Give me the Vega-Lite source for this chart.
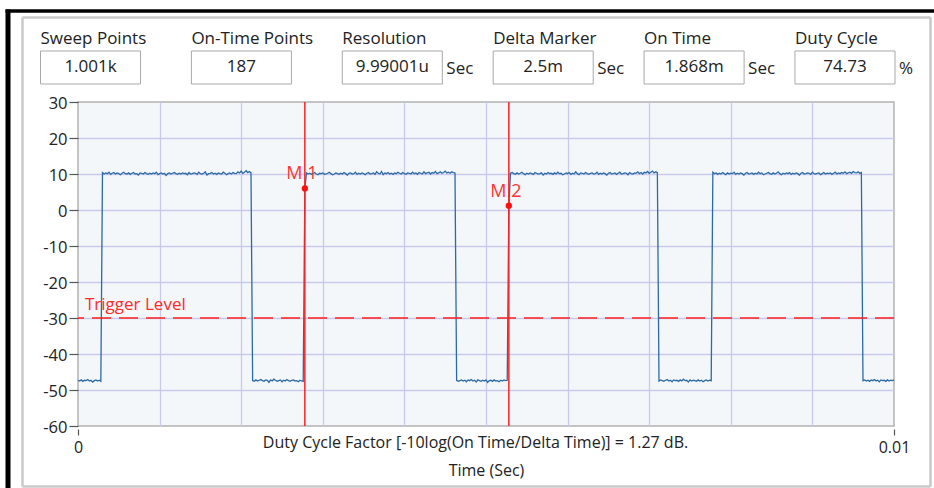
{
"$schema": "https://vega.github.io/schema/vega-lite/v6.json",
"width": 816,
"height": 324,
"autosize": {"type": "none"},
"padding": {"left": 78, "top": 102, "right": 40, "bottom": 62},
"background": "#ffffff",
"config": {
  "font": "Open Sans",
  "view": {"fill": "#f4f7f9", "stroke": "#b3b3b3", "strokeWidth": 1.5}
},
"datasets": {
  "header": [
    {"name": "Sweep Points", "val": "1.001k", "unit": ""},
    {"name": "On-Time Points", "val": "187", "unit": ""},
    {"name": "Resolution", "val": "9.99001u", "unit": "Sec"},
    {"name": "Delta Marker", "val": "2.5m", "unit": "Sec"},
    {"name": "On Time", "val": "1.868m", "unit": "Sec"},
    {"name": "Duty Cycle", "val": "74.73", "unit": "%"}
  ],
  "markers": [
    {"name": "M 1", "t": 0.00278, "v": 6.0},
    {"name": "M 2", "t": 0.00528, "v": 1.2}
  ],
  "trigger": [
    {"level": -30, "label": "Trigger Level"}
  ],
  "signal": [
{"t":0.00000,"v":-47.3},{"t":0.00002,"v":-47.5},{"t":0.00004,"v":-47.2},{"t":0.00006,"v":-47.6},{"t":0.00008,"v":-47.3},
{"t":0.00010,"v":-47.4},{"t":0.00012,"v":-47.1},{"t":0.00014,"v":-47.5},{"t":0.00016,"v":-47.3},{"t":0.00018,"v":-47.8},
{"t":0.00020,"v":-47.4},{"t":0.00022,"v":-47.2},{"t":0.00024,"v":-47.5},{"t":0.00026,"v":-47.3},{"t":0.00028,"v":-47.6},
{"t":0.00030,"v":10.4},{"t":0.00032,"v":10.0},{"t":0.00034,"v":10.3},{"t":0.00036,"v":10.1},{"t":0.00038,"v":10.5},
{"t":0.00040,"v":9.9},{"t":0.00042,"v":10.2},{"t":0.00044,"v":10.4},{"t":0.00046,"v":10.0},{"t":0.00048,"v":10.3},
{"t":0.00050,"v":10.1},{"t":0.00052,"v":9.8},{"t":0.00054,"v":10.2},{"t":0.00056,"v":10.5},{"t":0.00058,"v":10.1},
{"t":0.00060,"v":10.0},{"t":0.00062,"v":10.3},{"t":0.00064,"v":9.9},{"t":0.00066,"v":10.2},{"t":0.00068,"v":10.4},
{"t":0.00070,"v":10.0},{"t":0.00072,"v":10.1},{"t":0.00074,"v":9.7},{"t":0.00076,"v":10.3},{"t":0.00078,"v":10.2},
{"t":0.00080,"v":10.0},{"t":0.00082,"v":10.4},{"t":0.00084,"v":10.1},{"t":0.00086,"v":9.9},{"t":0.00088,"v":10.2},
{"t":0.00090,"v":10.0},{"t":0.00092,"v":10.3},{"t":0.00094,"v":10.1},{"t":0.00096,"v":10.5},{"t":0.00098,"v":9.8},
{"t":0.00100,"v":10.1},{"t":0.00102,"v":10.3},{"t":0.00104,"v":10.0},{"t":0.00106,"v":10.2},{"t":0.00108,"v":9.6},
{"t":0.00110,"v":10.1},{"t":0.00112,"v":10.3},{"t":0.00114,"v":10.0},{"t":0.00116,"v":10.2},{"t":0.00118,"v":10.4},
{"t":0.00120,"v":10.1},{"t":0.00122,"v":9.9},{"t":0.00124,"v":10.2},{"t":0.00126,"v":10.0},{"t":0.00128,"v":10.3},
{"t":0.00130,"v":10.1},{"t":0.00132,"v":10.2},{"t":0.00134,"v":9.8},{"t":0.00136,"v":10.4},{"t":0.00138,"v":10.0},
{"t":0.00140,"v":10.1},{"t":0.00142,"v":10.3},{"t":0.00144,"v":10.2},{"t":0.00146,"v":9.9},{"t":0.00148,"v":10.5},
{"t":0.00150,"v":10.1},{"t":0.00152,"v":10.0},{"t":0.00154,"v":10.2},{"t":0.00156,"v":10.6},{"t":0.00158,"v":9.7},
{"t":0.00160,"v":10.1},{"t":0.00162,"v":10.2},{"t":0.00164,"v":10.4},{"t":0.00166,"v":10.0},{"t":0.00168,"v":10.2},
{"t":0.00170,"v":9.9},{"t":0.00172,"v":10.3},{"t":0.00174,"v":10.1},{"t":0.00176,"v":10.0},{"t":0.00178,"v":10.5},
{"t":0.00180,"v":10.2},{"t":0.00182,"v":9.8},{"t":0.00184,"v":10.1},{"t":0.00186,"v":10.3},{"t":0.00188,"v":10.0},
{"t":0.00190,"v":10.4},{"t":0.00192,"v":10.2},{"t":0.00194,"v":10.1},{"t":0.00196,"v":10.6},{"t":0.00198,"v":10.3},
{"t":0.00200,"v":10.8},{"t":0.00202,"v":10.2},{"t":0.00204,"v":10.5},{"t":0.00206,"v":10.9},{"t":0.00208,"v":10.4},
{"t":0.00210,"v":10.7},{"t":0.00212,"v":10.3},
{"t":0.00214,"v":-47.4},{"t":0.00216,"v":-47.6},{"t":0.00218,"v":-47.2},{"t":0.00220,"v":-47.5},{"t":0.00222,"v":-47.3},
{"t":0.00224,"v":-47.1},{"t":0.00226,"v":-47.4},{"t":0.00228,"v":-47.6},{"t":0.00230,"v":-47.2},{"t":0.00232,"v":-47.3},
{"t":0.00234,"v":-47.9},{"t":0.00236,"v":-47.2},{"t":0.00238,"v":-47.5},{"t":0.00240,"v":-47.0},{"t":0.00242,"v":-47.3},
{"t":0.00244,"v":-47.6},{"t":0.00246,"v":-47.4},{"t":0.00248,"v":-47.2},{"t":0.00250,"v":-47.7},{"t":0.00252,"v":-47.3},
{"t":0.00254,"v":-47.5},{"t":0.00256,"v":-47.1},{"t":0.00258,"v":-47.4},{"t":0.00260,"v":-47.6},{"t":0.00262,"v":-47.3},
{"t":0.00264,"v":-47.2},{"t":0.00266,"v":-47.5},{"t":0.00268,"v":-47.4},{"t":0.00270,"v":-47.7},{"t":0.00272,"v":-47.3},
{"t":0.00274,"v":-47.5},{"t":0.00276,"v":-47.6},
{"t":0.00278,"v":6.0},
{"t":0.00280,"v":10.3},{"t":0.00282,"v":10.0},{"t":0.00284,"v":10.2},{"t":0.00286,"v":9.9},{"t":0.00288,"v":10.1},
{"t":0.00290,"v":10.4},{"t":0.00292,"v":10.0},{"t":0.00294,"v":9.8},{"t":0.00296,"v":10.2},{"t":0.00298,"v":10.1},
{"t":0.00300,"v":10.3},{"t":0.00302,"v":9.9},{"t":0.00304,"v":10.0},{"t":0.00306,"v":10.2},{"t":0.00308,"v":10.5},
{"t":0.00310,"v":10.1},{"t":0.00312,"v":9.8},{"t":0.00314,"v":10.0},{"t":0.00316,"v":10.3},{"t":0.00318,"v":10.1},
{"t":0.00320,"v":9.9},{"t":0.00322,"v":10.2},{"t":0.00324,"v":10.0},{"t":0.00326,"v":10.4},{"t":0.00328,"v":10.1},
{"t":0.00330,"v":9.7},{"t":0.00332,"v":10.2},{"t":0.00334,"v":10.3},{"t":0.00336,"v":10.0},{"t":0.00338,"v":10.1},
{"t":0.00340,"v":10.5},{"t":0.00342,"v":9.9},{"t":0.00344,"v":10.2},{"t":0.00346,"v":10.0},{"t":0.00348,"v":10.3},
{"t":0.00350,"v":10.1},{"t":0.00352,"v":9.8},{"t":0.00354,"v":10.2},{"t":0.00356,"v":10.4},{"t":0.00358,"v":10.0},
{"t":0.00360,"v":10.1},{"t":0.00362,"v":10.3},{"t":0.00364,"v":9.9},{"t":0.00366,"v":10.6},{"t":0.00368,"v":10.2},
{"t":0.00370,"v":10.0},{"t":0.00372,"v":10.7},{"t":0.00374,"v":9.8},{"t":0.00376,"v":10.3},{"t":0.00378,"v":10.1},
{"t":0.00380,"v":10.4},{"t":0.00382,"v":10.0},{"t":0.00384,"v":10.2},{"t":0.00386,"v":9.9},{"t":0.00388,"v":10.3},
{"t":0.00390,"v":10.1},{"t":0.00392,"v":10.5},{"t":0.00394,"v":10.2},{"t":0.00396,"v":10.0},{"t":0.00398,"v":10.4},
{"t":0.00400,"v":10.1},{"t":0.00402,"v":9.9},{"t":0.00404,"v":10.3},{"t":0.00406,"v":10.2},{"t":0.00408,"v":10.0},
{"t":0.00410,"v":10.5},{"t":0.00412,"v":10.1},{"t":0.00414,"v":10.3},{"t":0.00416,"v":9.9},{"t":0.00418,"v":10.4},
{"t":0.00420,"v":10.2},{"t":0.00422,"v":10.0},{"t":0.00424,"v":10.6},{"t":0.00426,"v":10.1},{"t":0.00428,"v":10.3},
{"t":0.00430,"v":10.5},{"t":0.00432,"v":10.0},{"t":0.00434,"v":10.4},{"t":0.00436,"v":10.2},{"t":0.00438,"v":10.7},
{"t":0.00440,"v":10.1},{"t":0.00442,"v":10.3},{"t":0.00444,"v":10.6},{"t":0.00446,"v":10.2},{"t":0.00448,"v":10.4},
{"t":0.00450,"v":10.8},{"t":0.00452,"v":10.3},{"t":0.00454,"v":10.5},{"t":0.00456,"v":10.2},{"t":0.00458,"v":10.6},
{"t":0.00460,"v":10.4},{"t":0.00462,"v":10.3},
{"t":0.00464,"v":-47.3},{"t":0.00466,"v":-47.6},{"t":0.00468,"v":-47.4},{"t":0.00470,"v":-47.2},{"t":0.00472,"v":-47.5},
{"t":0.00474,"v":-47.3},{"t":0.00476,"v":-47.7},{"t":0.00478,"v":-47.2},{"t":0.00480,"v":-47.4},{"t":0.00482,"v":-47.1},
{"t":0.00484,"v":-47.5},{"t":0.00486,"v":-47.3},{"t":0.00488,"v":-47.8},{"t":0.00490,"v":-47.2},{"t":0.00492,"v":-47.4},
{"t":0.00494,"v":-47.6},{"t":0.00496,"v":-47.3},{"t":0.00498,"v":-47.5},{"t":0.00500,"v":-47.2},{"t":0.00502,"v":-47.9},
{"t":0.00504,"v":-47.4},{"t":0.00506,"v":-47.3},{"t":0.00508,"v":-47.6},{"t":0.00510,"v":-47.2},{"t":0.00512,"v":-47.5},
{"t":0.00514,"v":-47.4},{"t":0.00516,"v":-47.7},{"t":0.00518,"v":-47.3},{"t":0.00520,"v":-47.5},{"t":0.00522,"v":-47.2},
{"t":0.00524,"v":-47.4},{"t":0.00526,"v":-47.3},
{"t":0.00528,"v":1.2},
{"t":0.00530,"v":10.2},{"t":0.00532,"v":10.4},{"t":0.00534,"v":10.1},{"t":0.00536,"v":9.9},{"t":0.00538,"v":10.3},
{"t":0.00540,"v":10.0},{"t":0.00542,"v":10.2},{"t":0.00544,"v":10.5},{"t":0.00546,"v":10.1},{"t":0.00548,"v":9.8},
{"t":0.00550,"v":10.2},{"t":0.00552,"v":10.0},{"t":0.00554,"v":10.3},{"t":0.00556,"v":10.1},{"t":0.00558,"v":9.9},
{"t":0.00560,"v":10.4},{"t":0.00562,"v":10.2},{"t":0.00564,"v":10.0},{"t":0.00566,"v":10.1},{"t":0.00568,"v":10.3},
{"t":0.00570,"v":9.7},{"t":0.00572,"v":10.2},{"t":0.00574,"v":10.0},{"t":0.00576,"v":10.4},{"t":0.00578,"v":10.1},
{"t":0.00580,"v":10.2},{"t":0.00582,"v":9.9},{"t":0.00584,"v":10.3},{"t":0.00586,"v":10.0},{"t":0.00588,"v":10.5},
{"t":0.00590,"v":10.1},{"t":0.00592,"v":10.2},{"t":0.00594,"v":9.8},{"t":0.00596,"v":10.0},{"t":0.00598,"v":10.3},
{"t":0.00600,"v":10.1},{"t":0.00602,"v":10.4},{"t":0.00604,"v":9.9},{"t":0.00606,"v":10.2},{"t":0.00608,"v":10.0},
{"t":0.00610,"v":10.6},{"t":0.00612,"v":10.1},{"t":0.00614,"v":9.8},{"t":0.00616,"v":10.3},{"t":0.00618,"v":10.2},
{"t":0.00620,"v":10.0},{"t":0.00622,"v":10.4},{"t":0.00624,"v":10.1},{"t":0.00626,"v":9.9},{"t":0.00628,"v":10.2},
{"t":0.00630,"v":10.3},{"t":0.00632,"v":10.0},{"t":0.00634,"v":10.1},{"t":0.00636,"v":10.5},{"t":0.00638,"v":9.9},
{"t":0.00640,"v":10.2},{"t":0.00642,"v":10.0},{"t":0.00644,"v":10.3},{"t":0.00646,"v":10.1},{"t":0.00648,"v":9.7},
{"t":0.00650,"v":10.2},{"t":0.00652,"v":10.4},{"t":0.00654,"v":10.0},{"t":0.00656,"v":10.1},{"t":0.00658,"v":10.3},
{"t":0.00660,"v":9.9},{"t":0.00662,"v":10.2},{"t":0.00664,"v":10.5},{"t":0.00666,"v":10.0},{"t":0.00668,"v":10.1},
{"t":0.00670,"v":10.3},{"t":0.00672,"v":10.2},{"t":0.00674,"v":9.8},{"t":0.00676,"v":10.4},{"t":0.00678,"v":10.1},
{"t":0.00680,"v":10.0},{"t":0.00682,"v":10.3},{"t":0.00684,"v":10.2},{"t":0.00686,"v":10.6},{"t":0.00688,"v":10.1},
{"t":0.00690,"v":10.4},{"t":0.00692,"v":10.0},{"t":0.00694,"v":10.5},{"t":0.00696,"v":10.3},{"t":0.00698,"v":10.7},
{"t":0.00700,"v":10.2},{"t":0.00702,"v":10.5},{"t":0.00704,"v":10.8},{"t":0.00706,"v":10.3},{"t":0.00708,"v":10.6},
{"t":0.00710,"v":10.4},
{"t":0.00712,"v":-47.5},{"t":0.00714,"v":-47.2},{"t":0.00716,"v":-47.4},{"t":0.00718,"v":-47.6},{"t":0.00720,"v":-47.3},
{"t":0.00722,"v":-47.1},{"t":0.00724,"v":-47.5},{"t":0.00726,"v":-47.3},{"t":0.00728,"v":-47.7},{"t":0.00730,"v":-47.2},
{"t":0.00732,"v":-47.4},{"t":0.00734,"v":-47.3},{"t":0.00736,"v":-47.6},{"t":0.00738,"v":-47.2},{"t":0.00740,"v":-47.5},
{"t":0.00742,"v":-47.0},{"t":0.00744,"v":-47.4},{"t":0.00746,"v":-47.3},{"t":0.00748,"v":-47.8},{"t":0.00750,"v":-47.2},
{"t":0.00752,"v":-47.5},{"t":0.00754,"v":-47.3},{"t":0.00756,"v":-47.4},{"t":0.00758,"v":-47.6},{"t":0.00760,"v":-47.2},
{"t":0.00762,"v":-47.5},{"t":0.00764,"v":-47.3},{"t":0.00766,"v":-47.7},{"t":0.00768,"v":-47.4},{"t":0.00770,"v":-47.2},
{"t":0.00772,"v":-47.5},{"t":0.00774,"v":-47.3},{"t":0.00776,"v":-47.4},
{"t":0.00778,"v":10.5},{"t":0.00780,"v":10.1},{"t":0.00782,"v":10.3},{"t":0.00784,"v":9.9},{"t":0.00786,"v":10.2},
{"t":0.00788,"v":10.0},{"t":0.00790,"v":10.4},{"t":0.00792,"v":10.1},{"t":0.00794,"v":9.8},{"t":0.00796,"v":10.3},
{"t":0.00798,"v":10.0},{"t":0.00800,"v":10.2},{"t":0.00802,"v":10.1},{"t":0.00804,"v":10.5},{"t":0.00806,"v":9.9},
{"t":0.00808,"v":10.2},{"t":0.00810,"v":10.0},{"t":0.00812,"v":10.3},{"t":0.00814,"v":10.1},{"t":0.00816,"v":9.7},
{"t":0.00818,"v":10.2},{"t":0.00820,"v":10.4},{"t":0.00822,"v":10.0},{"t":0.00824,"v":10.1},{"t":0.00826,"v":10.3},
{"t":0.00828,"v":9.9},{"t":0.00830,"v":10.2},{"t":0.00832,"v":10.0},{"t":0.00834,"v":10.5},{"t":0.00836,"v":10.1},
{"t":0.00838,"v":10.3},{"t":0.00840,"v":9.8},{"t":0.00842,"v":10.0},{"t":0.00844,"v":10.2},{"t":0.00846,"v":10.4},
{"t":0.00848,"v":10.1},{"t":0.00850,"v":9.9},{"t":0.00852,"v":10.3},{"t":0.00854,"v":10.0},{"t":0.00856,"v":10.2},
{"t":0.00858,"v":10.6},{"t":0.00860,"v":10.1},{"t":0.00862,"v":9.8},{"t":0.00864,"v":10.2},{"t":0.00866,"v":10.0},
{"t":0.00868,"v":10.3},{"t":0.00870,"v":10.1},{"t":0.00872,"v":10.4},{"t":0.00874,"v":9.9},{"t":0.00876,"v":10.2},
{"t":0.00878,"v":10.0},{"t":0.00880,"v":10.3},{"t":0.00882,"v":10.1},{"t":0.00884,"v":9.7},{"t":0.00886,"v":10.2},
{"t":0.00888,"v":10.4},{"t":0.00890,"v":10.0},{"t":0.00892,"v":10.1},{"t":0.00894,"v":10.3},{"t":0.00896,"v":10.2},
{"t":0.00898,"v":9.9},{"t":0.00900,"v":10.5},{"t":0.00902,"v":10.1},{"t":0.00904,"v":10.0},{"t":0.00906,"v":10.2},
{"t":0.00908,"v":10.3},{"t":0.00910,"v":9.8},{"t":0.00912,"v":10.1},{"t":0.00914,"v":10.4},{"t":0.00916,"v":10.0},
{"t":0.00918,"v":10.2},{"t":0.00920,"v":10.1},{"t":0.00922,"v":10.3},{"t":0.00924,"v":9.9},{"t":0.00926,"v":10.2},
{"t":0.00928,"v":10.5},{"t":0.00930,"v":10.0},{"t":0.00932,"v":10.3},{"t":0.00934,"v":10.1},{"t":0.00936,"v":10.4},
{"t":0.00938,"v":10.2},{"t":0.00940,"v":10.6},{"t":0.00942,"v":10.1},{"t":0.00944,"v":10.3},{"t":0.00946,"v":10.5},
{"t":0.00948,"v":10.2},{"t":0.00950,"v":10.7},{"t":0.00952,"v":10.4},{"t":0.00954,"v":10.3},{"t":0.00956,"v":10.6},
{"t":0.00958,"v":10.2},{"t":0.00960,"v":10.4},
{"t":0.00962,"v":-47.4},{"t":0.00964,"v":-47.2},{"t":0.00966,"v":-47.5},{"t":0.00968,"v":-47.3},{"t":0.00970,"v":-47.6},
{"t":0.00972,"v":-47.2},{"t":0.00974,"v":-47.4},{"t":0.00976,"v":-47.1},{"t":0.00978,"v":-47.5},{"t":0.00980,"v":-47.3},
{"t":0.00982,"v":-47.7},{"t":0.00984,"v":-47.2},{"t":0.00986,"v":-47.4},{"t":0.00988,"v":-47.3},{"t":0.00990,"v":-47.6},
{"t":0.00992,"v":-47.2},{"t":0.00994,"v":-47.5},{"t":0.00996,"v":-47.3},{"t":0.00998,"v":-47.4},{"t":0.01000,"v":-47.2}
  ]
},
"resolve": {"scale": {"x": "independent", "y": "independent"}, "axis": {"x": "independent", "y": "independent"}},
"layer": [
  {
    "layer": [
      {
        "data": {"name": "signal"},
        "mark": {"type": "line", "color": "#2b6aa6", "strokeWidth": 1.3},
        "encoding": {
          "x": {"field": "t", "type": "quantitative",
                "scale": {"domain": [0, 0.01], "nice": false, "zero": false},
                "axis": {
                  "orient": "bottom",
                  "values": [0, 0.001, 0.002, 0.003, 0.004, 0.005, 0.006, 0.007, 0.008, 0.009, 0.01],
                  "grid": true,
                  "gridColor": {"condition": {"test": "datum.value == 0 || datum.value == 0.01", "value": "transparent"}, "value": "#c9c9ee"},
                  "gridWidth": 1.3,
                  "domain": false,
                  "offset": 3,
                  "tickSize": 6,
                  "tickWidth": 1.2,
                  "tickColor": {"condition": {"test": "datum.value == 0 || datum.value == 0.01", "value": "#555555"}, "value": "transparent"},
                  "labelExpr": "datum.value == 0 ? '0' : (datum.value == 0.01 ? '0.01' : '')",
                  "labelFlush": false,
                  "labelOverlap": false,
                  "labelFontSize": 16,
                  "labelColor": "#222222",
                  "labelPadding": 4,
                  "title": "Time (Sec)",
                  "titleFontSize": 16,
                  "titleFontWeight": "normal",
                  "titleColor": "#222222",
                  "titleBaseline": "middle",
                  "titleY": 41.5
                }},
          "y": {"field": "v", "type": "quantitative",
                "scale": {"domain": [-60, 30], "nice": false, "zero": false},
                "axis": {
                  "orient": "left",
                  "values": [-60, -50, -40, -30, -20, -10, 0, 10, 20, 30],
                  "tickCount": 10,
                  "grid": true,
                  "gridColor": {"condition": {"test": "datum.value == -60 || datum.value == 30", "value": "transparent"}, "value": "#c9c9ee"},
                  "gridWidth": 1.3,
                  "domain": false,
                  "tickSize": 9,
                  "tickWidth": 1.2,
                  "tickColor": "#555555",
                  "labelExpr": "'' + datum.value",
                  "labelFlush": false,
                  "labelOverlap": false,
                  "labelFontSize": 16.5,
                  "labelColor": "#222222",
                  "labelPadding": 2,
                  "labelOffset": 1.5,
                  "title": null
                }}
        }
      },
      {
        "data": {"name": "markers"},
        "mark": {"type": "text", "align": "center", "baseline": "alphabetic", "dx": -3, "dy": -9, "fontSize": 18, "color": "#ff3333"},
        "encoding": {
          "x": {"field": "t", "type": "quantitative"},
          "y": {"field": "v", "type": "quantitative"},
          "text": {"field": "name"}
        }
      },
      {
        "data": {"name": "trigger"},
        "mark": {"type": "rule", "color": "#ff1e1e", "strokeWidth": 1.5, "strokeDash": [19, 8]},
        "encoding": {
          "y": {"field": "level", "type": "quantitative"}
        }
      },
      {
        "data": {"name": "trigger"},
        "mark": {"type": "text", "align": "left", "baseline": "alphabetic", "dx": 7, "dy": -8, "fontSize": 17, "color": "#ff2a2a"},
        "encoding": {
          "x": {"datum": 0, "type": "quantitative"},
          "y": {"field": "level", "type": "quantitative"},
          "text": {"field": "label"}
        }
      },
      {
        "data": {"name": "markers"},
        "mark": {"type": "rule", "color": "#ff2020", "strokeWidth": 1.5},
        "encoding": {
          "x": {"field": "t", "type": "quantitative"}
        }
      },
      {
        "data": {"name": "markers"},
        "mark": {"type": "point", "filled": true, "color": "#ff1010", "size": 40, "opacity": 1},
        "encoding": {
          "x": {"field": "t", "type": "quantitative"},
          "y": {"field": "v", "type": "quantitative"}
        }
      }
    ]
  },
  {
    "data": {"values": [{"edge": 0}, {"edge": 1}]},
    "mark": {"type": "point", "opacity": 0},
    "encoding": {
      "x": {"field": "edge", "type": "quantitative", "scale": {"domain": [0, 1], "range": [-73, 856]},
            "axis": {"orient": "top", "offset": 91.5, "domainColor": "#000000", "domainWidth": 3.5, "ticks": false, "labels": false, "grid": false, "title": null}},
      "y": {"field": "edge", "type": "quantitative", "scale": {"domain": [0, 1], "range": [386, -93]},
            "axis": {"orient": "left", "offset": 70.5, "domainColor": "#000000", "domainWidth": 5, "ticks": false, "labels": false, "grid": false, "title": null}}
    }
  },
  {
    "data": {"values": [{"edge": 0}, {"edge": 1}]},
    "mark": {"type": "point", "opacity": 0},
    "encoding": {
      "x": {"field": "edge", "type": "quantitative", "scale": {"domain": [0, 1], "range": [-56, 852]},
            "axis": {"orient": "top", "offset": 85, "domainColor": "#c8c8c8", "domainWidth": 2.5, "ticks": false, "labels": false, "grid": false, "title": null}},
      "y": {"field": "edge", "type": "quantitative", "scale": {"domain": [0, 1], "range": [384, -85]},
            "axis": {"orient": "left", "offset": 56, "domainColor": "#c8c8c8", "domainWidth": 2.5, "ticks": false, "labels": false, "grid": false, "title": null}}
    }
  },
  {
    "data": {"values": [{"edge": 0}, {"edge": 1}]},
    "mark": {"type": "point", "opacity": 0},
    "encoding": {
      "x": {"field": "edge", "type": "quantitative", "scale": {"domain": [0, 1], "range": [-56, 852]},
            "axis": {"orient": "bottom", "offset": 60, "domainColor": "#c8c8c8", "domainWidth": 2.5, "ticks": false, "labels": false, "grid": false,
                     "title": "Duty Cycle Factor [-10log(On Time/Delta Time)] = 1.27 dB.",
                     "titleFontSize": 16, "titleFontWeight": "normal", "titleColor": "#222222",
                     "titleBaseline": "middle", "titleAlign": "center", "titleX": 397, "titleY": -43.5}},
      "y": {"field": "edge", "type": "quantitative", "scale": {"domain": [0, 1], "range": [384, -85]},
            "axis": {"orient": "right", "offset": 36, "domainColor": "#c8c8c8", "domainWidth": 2.5, "ticks": false, "labels": false, "grid": false, "title": null}}
    }
  },
  {
    "data": {"name": "header"},
    "layer": [
      {
        "mark": {"type": "rect", "fill": "#ffffff", "stroke": "#a9a9a9", "strokeWidth": 1},
        "encoding": {
          "x": {"field": "name", "type": "nominal", "sort": null,
                "scale": {"type": "band", "domain": ["Sweep Points", "On-Time Points", "Resolution", "Delta Marker", "On Time", "Duty Cycle"], "range": [-37.5, 817], "paddingInner": 0.337, "paddingOuter": 0}, "axis": null},
          "y": {"datum": "box", "type": "nominal", "scale": {"type": "band", "domain": ["box"], "range": [-51, -18], "paddingInner": 0, "paddingOuter": 0}, "axis": null}
        }
      },
      {
        "mark": {"type": "text", "align": "left", "baseline": "middle", "dx": 0, "dy": -29, "fontSize": 17, "color": "#222222"},
        "encoding": {
          "x": {"field": "name", "type": "nominal", "bandPosition": 0, "axis": null},
          "y": {"datum": "box", "type": "nominal", "axis": null},
          "text": {"field": "name"}
        }
      },
      {
        "mark": {"type": "text", "align": "center", "baseline": "middle", "dy": -1, "fontSize": 17, "color": "#222222"},
        "encoding": {
          "x": {"field": "name", "type": "nominal", "axis": null},
          "y": {"datum": "box", "type": "nominal", "axis": null},
          "text": {"field": "val"}
        }
      },
      {
        "mark": {"type": "text", "align": "left", "baseline": "middle", "dx": 4, "dy": 1, "fontSize": 17, "color": "#222222"},
        "encoding": {
          "x": {"field": "name", "type": "nominal", "bandPosition": 1, "axis": null},
          "y": {"datum": "box", "type": "nominal", "axis": null},
          "text": {"field": "unit"}
        }
      }
    ]
  }
]
}
